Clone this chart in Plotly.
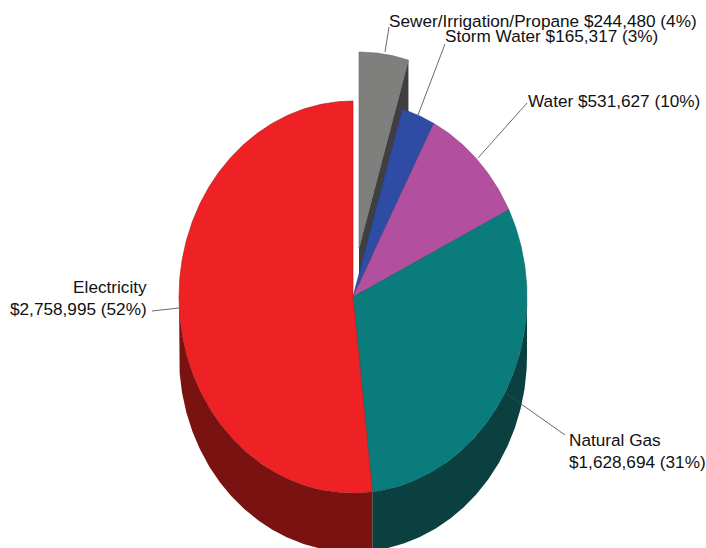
import numpy as np
import plotly.graph_objects as go

# Data, clockwise from 12 o'clock
categories = ["Sewer/Irrigation/Propane", "Storm Water", "Water", "Natural Gas", "Electricity"]
values = [244480, 165317, 531627, 1628694, 2758995]
percents = [4, 3, 10, 31, 52]

# Style and geometry (pixel space)
W, H = 706, 548
CX, CY, RX, RY, DEPTH = 353, 297, 174, 196, 59
OFFSETS = [(6, -49), (0, 0), (0, 0), (0, 0), (0, 0)]
top_colors = ["#7F807E", "#2F4CA5", "#B24F9E", "#0A7C7C", "#EE2224"]
side_colors = ["#3F3F3F", "#1A2A5C", "#5E2A54", "#0B4040", "#7A1212"]
edge_colors = ["#6A6A6A", "#2A3F8A", "#8E3F80", "#0A6464", "#B01A1C"]


def arc(a0, a1, ox=0, oy=0):
    n = max(2, int(abs(a1 - a0) * 2) + 1)
    t = np.radians(np.linspace(a0, a1, n))
    return CX + ox + RX * np.sin(t), CY + oy - RY * np.cos(t)


total = sum(values)
cum = np.concatenate([[0], np.cumsum(values)]) / total * 360
fig = go.Figure()


def poly(x, y, fill, line, width=0.6):
    fig.add_trace(go.Scatter(x=list(x), y=list(y), mode="lines", fill="toself",
                             fillcolor=fill, line=dict(color=line, width=width),
                             hoverinfo="skip", showlegend=False))


# Draw the exploded slice first, then the rest over it
for i in range(len(values)):
    a0, a1 = cum[i], cum[i + 1]
    ox, oy = OFFSETS[i]
    if (ox, oy) != (0, 0):
        ex, ey = arc(a1, a1, ox, oy)
        ax, ay = CX + ox, CY + oy
        poly([ax, ex[0], ex[0], ax], [ay, ey[0], ey[0] + DEPTH, ay + DEPTH],
             side_colors[i], side_colors[i], 0)
    lo, hi = max(a0, 90), min(a1, 270)
    if lo < hi:
        tx, ty = arc(lo, hi, ox, oy)
        poly(np.r_[tx, tx[::-1]], np.r_[ty, ty[::-1] + DEPTH],
             side_colors[i], side_colors[i], 0)

for i in range(len(values)):
    a0, a1 = cum[i], cum[i + 1]
    ox, oy = OFFSETS[i]
    tx, ty = arc(a0, a1, ox, oy)
    poly(np.r_[CX + ox, tx, CX + ox], np.r_[CY + oy, ty, CY + oy],
         top_colors[i], edge_colors[i])

labels = [f"{c} ${v:,} ({p}%)" for c, v, p in zip(categories, values, percents)]
FONT = dict(family="Liberation Sans, Arial, sans-serif", size=17.2, color="#111111")
ann = [
    (388, 21, labels[0], "left"),
    (444, 36, labels[1], "left"),
    (527, 101, labels[2], "left"),
    (148, 298, f"{categories[4]}<br>${values[4]:,} ({percents[4]}%)", "right"),
    (568, 451, f"{categories[3]}<br>${values[3]:,} ({percents[3]}%)", "left"),
]
annotations = []
for x, y, t, anchor in ann:
    annotations.append(dict(x=x, y=y, xref="x", yref="y", text=t, showarrow=False,
                            xanchor=anchor, yanchor="middle", align=anchor, font=FONT,
                            borderpad=0))

leaders = [(385, 52, 389, 27), (418, 115, 445, 44), (478, 158, 527, 103),
           (152, 311, 179, 308), (507, 394, 565, 435)]
shapes = [dict(type="line", xref="x", yref="y", x0=a, y0=b, x1=c, y1=d,
               line=dict(color="#444444", width=0.8)) for a, b, c, d in leaders]

fig.update_layout(
    width=W, height=H, margin=dict(l=0, r=0, t=0, b=0),
    paper_bgcolor="white", plot_bgcolor="white", showlegend=False,
    xaxis=dict(range=[0, W], visible=False, fixedrange=True),
    yaxis=dict(range=[H, 0], visible=False, fixedrange=True),
    annotations=annotations, shapes=shapes,
)
fig.write_html("out.html", config={"displayModeBar": False},
               post_script="document.body.style.margin='0';document.body.style.overflow='hidden';")
